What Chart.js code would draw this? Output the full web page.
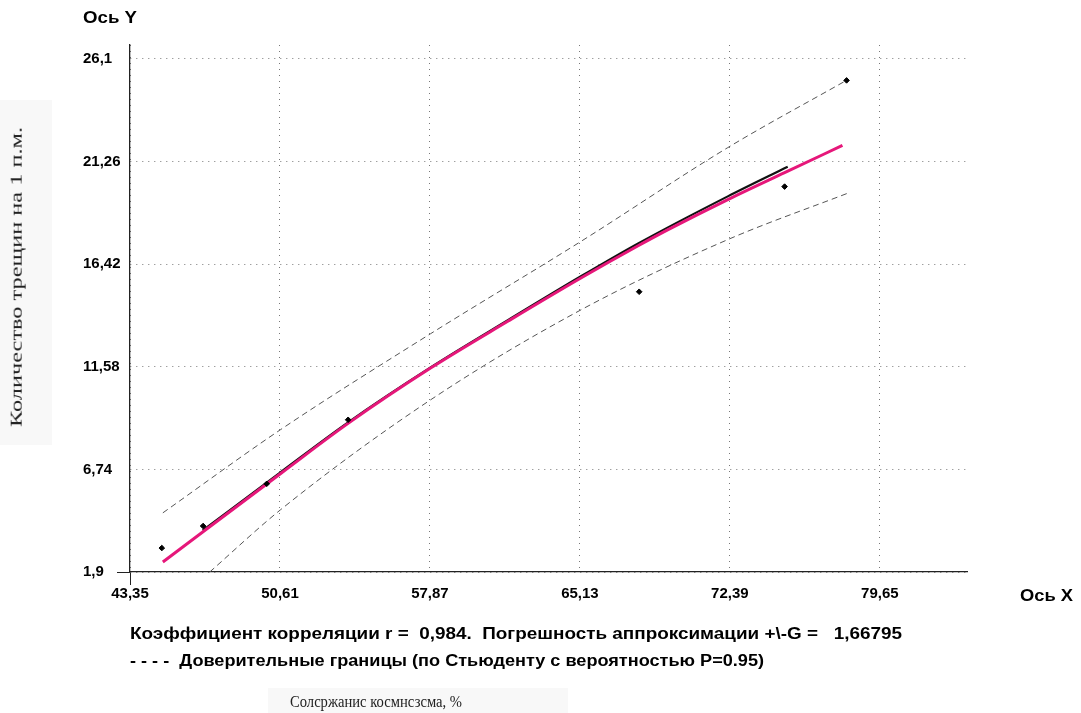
<!DOCTYPE html>
<html>
<head>
<meta charset="utf-8">
<script src="https://cdn.jsdelivr.net/npm/chart.js@4/dist/chart.umd.min.js"></script>
<style>
  html, body { margin: 0; padding: 0; background: #fff; }
  #wrap { position: relative; width: 1081px; height: 713px; overflow: hidden; background: #fff; }
  #c { position: absolute; left: 0; top: 0; }
  .t { position: absolute; white-space: nowrap; color: #000; transform-origin: 0 0; }
  .b { font-family: "Liberation Sans", Arial, sans-serif; font-weight: bold; font-size: 16px; line-height: 18px; }
  .s { font-family: "Liberation Serif", "DejaVu Serif", serif; font-size: 16px; line-height: 18px; color: #222; }
  .bg { position: absolute; background: #f8f8f8; }
</style>
</head>
<body>
<div id="wrap">
  <div class="bg" style="left:0;top:100px;width:52px;height:345px;"></div>
  <div class="bg" style="left:268px;top:688px;width:300px;height:25px;"></div>
  <canvas id="c" width="1081" height="713"></canvas>
  <div class="t b" id="ty" style="left:83px;top:9px;" data-w="54">Ось Y</div>
  <div class="t b" id="tx" style="left:1020px;top:587px;" data-w="53">Ось X</div>
  <div class="t b" id="l1" style="left:130px;top:625px;" data-w="772">Коэффициент корреляции r =&nbsp; 0,984.&nbsp; Погрешность аппроксимации +\-G = &nbsp; 1,66795</div>
  <div class="t b" id="l2" style="left:130px;top:652px;" data-w="634">- - - -&nbsp; Доверительные границы (по Стьюденту с вероятностью P=0.95)</div>
  <div class="t s" id="l3" style="left:290px;top:693px;" data-w="172">Солсржанис космнсзсма, %</div>
  <div class="t s" id="yt">Количество трещин на 1 п.м.</div>
</div>
<script>
// ---- data ----
const xTickValues = [43.35, 50.61, 57.87, 65.13, 72.39, 79.65];
const xTickLabels = ['43,35', '50,61', '57,87', '65,13', '72,39', '79,65'];
const yTickValues = [1.9, 6.74, 11.58, 16.42, 21.26, 26.1];
const yTickLabels = ['1,9', '6,74', '11,58', '16,42', '21,26', '26,1'];

const pointsX = [44.89, 46.89, 49.97, 53.91, 68.0, 75.04, 78.04];
const pointsY = [3.03, 4.07, 6.06, 9.08, 15.12, 20.08, 25.09];

const pinkX = [44.94, 46.87, 50.68, 53.91, 57.92, 61.68, 65.20, 67.95, 69.40, 72.29, 75.04, 77.84];
const pinkY = [2.37, 3.79, 6.57, 8.91, 11.53, 13.75, 15.78, 17.29, 18.05, 19.47, 20.74, 22.02];

const blackX = [46.87, 50.68, 53.91, 57.92, 61.68, 65.20, 67.95, 72.29, 75.19];
const blackY = [3.86, 6.64, 8.96, 11.56, 13.80, 15.86, 17.40, 19.62, 21.02];

const upperX = [44.94, 50.63, 57.90, 65.19, 72.29, 77.94];
const upperY = [4.69, 8.61, 13.14, 17.50, 21.92, 25.04];

const lowerX = [47.21, 50.63, 57.90, 65.19, 72.29, 78.18];
const lowerY = [1.90, 4.83, 10.02, 14.27, 17.58, 19.80];

const pairs = (xs, ys) => xs.map((x, i) => ({ x: x, y: ys[i] }));

const lineDs = (data, color, width, dash) => ({
  type: 'scatter', data: data, showLine: true, borderColor: color, borderWidth: width,
  borderDash: dash || [], pointRadius: 0, pointHoverRadius: 0, fill: false,
  cubicInterpolationMode: 'monotone'
});

new Chart(document.getElementById('c'), {
  type: 'scatter',
  data: {
    datasets: [
      { type: 'scatter', data: pairs(pointsX, pointsY), pointStyle: 'rectRot', pointRadius: 2.8,
        backgroundColor: '#000', borderColor: '#000', borderWidth: 1, showLine: false },
      lineDs(pairs(pinkX, pinkY), '#e6177a', 3),
      lineDs(pairs(blackX, blackY), '#111', 2.2),
      lineDs(pairs(upperX, upperY), '#555', 1, [6, 4]),
      lineDs(pairs(lowerX, lowerY), '#555', 1, [6, 4])
    ]
  },
  options: {
    responsive: false,
    animation: false,
    events: [],
    layout: { padding: { left: 83, right: 114, top: 45, bottom: 0 } },
    plugins: { legend: { display: false }, tooltip: { enabled: false } },
    scales: {
      x: {
        type: 'linear', min: 43.35, max: 83.87,
        afterBuildTicks: s => { s.ticks = xTickValues.map(v => ({ value: v })); },
        afterFit: s => { s.height = 141; },
        ticks: {
          autoSkip: false, maxRotation: 0, padding: 0, color: '#000',
          font: { family: 'Liberation Sans, Arial, sans-serif', weight: 'bold', size: 15 },
          callback: (v, i) => xTickLabels[i]
        },
        grid: {
          color: '#777', lineWidth: 1, drawTicks: true, tickLength: 13,
          tickColor: c => c.index === 0 ? '#222' : 'rgba(0,0,0,0)', tickBorderDash: []
        },
        border: { display: true, color: '#222', width: 1.3, dash: [1, 5] }
      },
      y: {
        type: 'linear', min: 1.9, max: 26.76,
        afterBuildTicks: s => { s.ticks = yTickValues.map(v => ({ value: v })); },
        afterFit: s => { s.width = 47; },
        ticks: {
          autoSkip: false, crossAlign: 'far', padding: 0, color: '#000',
          font: { family: 'Liberation Sans, Arial, sans-serif', weight: 'bold', size: 15 },
          callback: (v, i) => yTickLabels[i]
        },
        grid: {
          color: '#777', lineWidth: 1, drawTicks: true, tickLength: 13,
          tickColor: c => c.index === 0 ? '#222' : 'rgba(0,0,0,0)', tickBorderDash: []
        },
        border: { display: true, color: '#222', width: 1.3, dash: [1, 5] }
      }
    }
  }
});

// stretch overlay texts to the widths seen in the reference
document.querySelectorAll('.t[data-w]').forEach(el => {
  const w0 = el.getBoundingClientRect().width;
  const k = parseFloat(el.dataset.w) / w0;
  el.style.transform = 'scaleX(' + k + ')';
});
(function () {
  const el = document.getElementById('yt');
  const w0 = el.getBoundingClientRect().width;
  const h0 = el.getBoundingClientRect().height;
  const cx = 17, cy = 277, target = 300;
  el.style.left = (cx - w0 / 2) + 'px';
  el.style.top = (cy - h0 / 2) + 'px';
  el.style.transformOrigin = '50% 50%';
  el.style.transform = 'rotate(-90deg) scaleX(' + (target / w0) + ')';
})();
</script>
</body>
</html>
